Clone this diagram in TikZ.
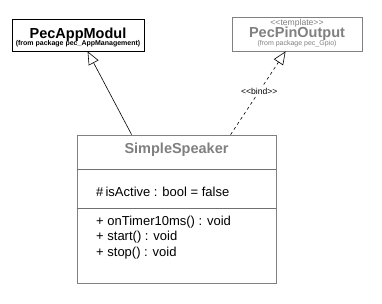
\documentclass[tikz,border=0pt]{standalone}
\usepackage{fontspec}
\setmainfont{Liberation Sans}
\usetikzlibrary{arrows.meta,calc}
\definecolor{ugray}{HTML}{808080}
\definecolor{uline}{HTML}{707070}
\newcommand{\utitle}{\fontsize{14.5}{16}\selectfont\bfseries}
\newcommand{\upkg}{\fontsize{7}{8}\selectfont}
\newcommand{\umem}{\fontsize{13}{15}\selectfont}
\newcommand{\ustereo}{\fontsize{8.6}{9}\selectfont}
\newcommand{\uopen}{<\kern0pt<\kern0pt}
\newcommand{\uclose}{>\kern0pt>}

\begin{document}
\begin{tikzpicture}[x=1pt,y=-1pt,font=\umem]
\useasboundingbox (0,0) rectangle (382,303);
\fill[white] (0,0) rectangle (382,303);
\tikzset{classbox/.style={draw,line width=0.8pt,inner sep=0,minimum width=#1},
  gen/.style={line width=0.6pt,-{Triangle[open,length=13pt,width=11pt,fill=white]}},
  bindline/.style={line width=0.6pt,dash pattern=on 3pt off 3pt,-{Triangle[open,length=13pt,width=11pt,fill=white]}}}
% PecAppModul
\node[classbox=132pt,minimum height=32pt] (appmod) at (78,35) {};
\node[font=\utitle] (appmodT) at (78,34.5) {PecAppModul};
\node[font=\upkg\bfseries,inner sep=0] (appmodP) at (78,44) {(from package pec\_AppManagement)};
% PecPinOutput
\node[classbox=130pt,minimum height=34pt,draw=ugray] (pinout) at (297,34) {};
\node[font=\ustereo,text=ugray,inner sep=0] (pinoutS) at (297,23) {\uopen template\uclose};
\node[font=\utitle,text=ugray,inner sep=0] (pinoutT) at (297,33.5) {PecPinOutput};
\node[font=\upkg,text=ugray,inner sep=0] (pinoutP) at (297,43.5) {(from package pec\_Gpio)};
% SimpleSpeaker
\node[classbox=199pt,minimum height=148pt,draw=ugray] (speaker) at (176.5,209) {};
\node[font=\utitle,text=ugray,inner sep=0] (speakerT) at (176.5,150) {SimpleSpeaker};
\draw[uline,line width=0.8pt] (speaker.west |- 0,169) -- (speaker.east |- 0,169);
\draw[uline,line width=0.8pt] (speaker.west |- 0,208) -- (speaker.east |- 0,208);
\node[anchor=west,inner sep=0] (attr) at (96,192) {\#\,isActive : bool = false};
\node[anchor=west,inner sep=0] (op1) at (96,222) {+ onTimer10ms() : void};
\node[anchor=west,inner sep=0] (op2) at (96,237.5) {+ start() : void};
\node[anchor=west,inner sep=0] (op3) at (96,253) {+ stop() : void};
% connectors
\coordinate (genS) at ($(speaker.north west)+(55,0)$);
\coordinate (genT) at ($(appmod.south west)+(76,0)$);
\draw[gen] (genS) -- (genT);
\coordinate (bindS) at ($(speaker.north west)+(154,0)$);
\coordinate (bindT) at ($(pinout.south west)+(54,0)$);
\draw[bindline] (bindS) -- node[fill=white,font=\ustereo,inner sep=1pt,pos=0.52] (bindL) {\uopen bind\uclose} (bindT);
\end{tikzpicture}
\end{document}
